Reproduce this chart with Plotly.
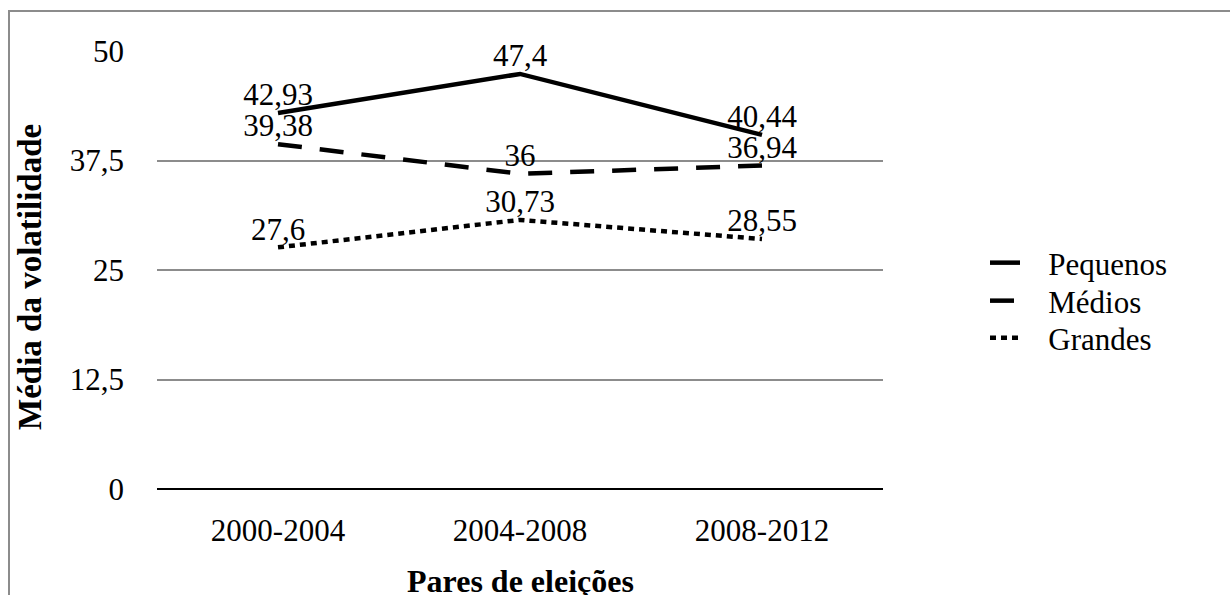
import plotly.graph_objects as go

categories = ["2000-2004", "2004-2008", "2008-2012"]
pequenos = [42.93, 47.4, 40.44]
medios = [39.38, 36, 36.94]
grandes = [27.6, 30.73, 28.55]
series_names = ["Pequenos", "Médios", "Grandes"]
y_ticks = [0, 12.5, 25, 37.5, 50]

FONT = "Liberation Serif"

# plot area in pixels
L, R, T, B = 157, 883, 51, 489
W, H = 1230, 595
pw, ph = R - L, B - T

def px_x(x):
    return (x - L) / pw

def px_y(y):
    return (B - y) / ph

def fmt(v):
    return f"{v:g}".replace(".", ",")

GAP = "\u00a0\u00a0\u00a0"  # extra gap between legend symbol and text

fig = go.Figure()
styles = [
    dict(color="black", width=4.5, dash="solid"),
    dict(color="black", width=4.5, dash="24px,18px"),
    dict(color="black", width=4.5, dash="6px,5px"),
]
legend_ids = ["legend", "legend2", "legend3"]
legend_rows = [263, 301, 338]
for name, vals, st, lid in zip(series_names, [pequenos, medios, grandes], styles, legend_ids):
    fig.add_trace(go.Scatter(
        x=categories, y=vals, name=GAP + name, mode="lines+text",
        line=st, text=[fmt(v) for v in vals], textposition="top center",
        textfont=dict(family=FONT, size=31, color="black"),
        cliponaxis=False, legend=lid,
    ))

legend_common = dict(xanchor="left", yanchor="middle",
                     font=dict(family=FONT, size=31, color="black"),
                     bgcolor="rgba(0,0,0,0)", itemwidth=30,
                     borderwidth=0)
legend_layout = {}
for lid, row in zip(legend_ids, legend_rows):
    legend_layout[lid] = dict(x=px_x(985), y=px_y(row), **legend_common)

fig.update_layout(
    width=W, height=H,
    margin=dict(l=L, r=W - R, t=T, b=H - B),
    paper_bgcolor="white", plot_bgcolor="white",
    font=dict(family=FONT, size=31, color="black"),
    separators=", ",
    showlegend=True,
    xaxis=dict(type="category", range=[-0.5, 2.5], showgrid=False,
               showline=False, zeroline=False, ticks="",
               tickfont=dict(family=FONT, size=31), ticklabelstandoff=20),
    yaxis=dict(range=[0, 50.02], tickvals=y_ticks,
               ticktext=[fmt(v) for v in y_ticks],
               showgrid=True, gridcolor="#8c8c8c", gridwidth=2,
               zeroline=True, zerolinecolor="black", zerolinewidth=2,
               showline=False, ticks="", ticklabelstandoff=32,
               tickfont=dict(family=FONT, size=31)),
    annotations=[
        dict(text="<b>Média da volatilidade</b>", textangle=-90,
             xref="paper", yref="paper", x=px_x(30), y=px_y(277),
             xanchor="center", yanchor="middle", showarrow=False,
             font=dict(family=FONT, size=33, color="black")),
        dict(text="<b>Pares de eleições</b>",
             xref="paper", yref="paper", x=0.5, y=px_y(581),
             xanchor="center", yanchor="middle", showarrow=False,
             font=dict(family=FONT, size=32, color="black")),
    ],
    shapes=[
        dict(type="rect", xref="paper", yref="paper",
             x0=px_x(9), x1=px_x(1240), y0=px_y(610), y1=px_y(11),
             line=dict(color="#8c8c8c", width=2), fillcolor="rgba(0,0,0,0)",
             layer="below"),
    ],
    **legend_layout,
)

fig.write_html("out.html")
